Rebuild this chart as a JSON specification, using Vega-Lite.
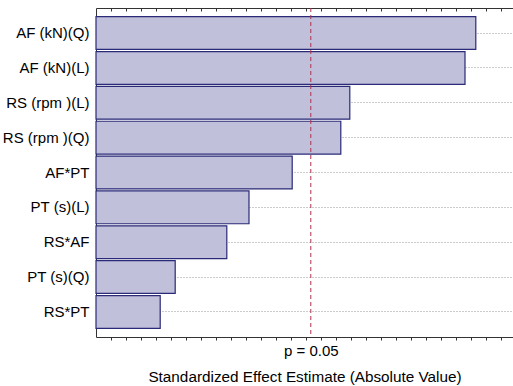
{
  "$schema": "https://vega.github.io/schema/vega-lite/v6.json",
  "autosize": "none",
  "width": 417,
  "height": 329,
  "padding": {"left": 96, "top": 8, "right": 0, "bottom": 49},
  "background": "white",
  "config": {
    "view": {"stroke": null},
    "font": "Liberation Sans",
    "axis": {"domainColor": "#333333", "tickColor": "#333333", "labelFont": "Liberation Sans", "titleFont": "Liberation Sans", "labelColor": "#000000", "titleColor": "#000000"}
  },
  "layer": [
    {
      "data": {"values": [
        {"factor": "AF (kN)(Q)", "effect": 6.33},
        {"factor": "AF (kN)(L)", "effect": 6.15},
        {"factor": "RS (rpm )(L)", "effect": 4.23},
        {"factor": "RS (rpm )(Q)", "effect": 4.08},
        {"factor": "AF*PT", "effect": 3.27},
        {"factor": "PT (s)(L)", "effect": 2.55},
        {"factor": "RS*AF", "effect": 2.18},
        {"factor": "PT (s)(Q)", "effect": 1.32},
        {"factor": "RS*PT", "effect": 1.07}
      ]},
      "mark": {"type": "bar", "fill": "#c0c0da", "stroke": "#2a2a78", "strokeWidth": 1.2},
      "encoding": {
        "y": {"field": "factor", "type": "nominal", "sort": null,
          "scale": {"paddingInner": 0.06, "paddingOuter": 0.25},
          "axis": {"title": null, "ticks": false, "labelFontSize": 15, "labelPadding": 7, "bandPosition": 0.5,
            "grid": true, "gridDash": [1, 2], "gridColor": "#999999", "gridWidth": 1, "domainWidth": 1}},
        "x": {"field": "effect", "type": "quantitative",
          "scale": {"domain": [0, 6.95], "nice": false},
          "axis": {"orient": "bottom", "grid": false,
            "values": [0.25,0.5,0.75,1,1.25,1.5,1.75,2,2.25,2.5,2.75,3,3.25,3.5,3.58,3.75,4,4.25,4.5,4.75,5,5.25,5.5,5.75,6,6.25,6.5,6.75],
            "labelExpr": "abs(datum.value - 3.58) < 0.001 ? 'p = 0.05' : ''",
            "labelFontSize": 15, "labelPadding": 6, "labelOverlap": false,
            "tickSize": {"condition": {"test": "abs(datum.value - 3.58) < 0.001", "value": 0}, "value": 3},
            "title": "Standardized Effect Estimate (Absolute Value)", "titleFontSize": 15.3, "titleFontWeight": "normal", "titlePadding": 8}}
      }
    },
    {
      "data": {"values": [{"label": "p = 0.05", "p": 3.58}]},
      "mark": {"type": "rule", "color": "#b03050", "strokeDash": [4, 3], "strokeWidth": 1},
      "encoding": {
        "x": {"field": "p", "type": "quantitative",
          "axis": {"orient": "top", "grid": false, "labels": false, "title": null,
            "values": [0.25,0.5,0.75,1,1.25,1.5,1.75,2,2.25,2.5,2.75,3,3.25,3.5,3.75,4,4.25,4.5,4.75,5,5.25,5.5,5.75,6,6.25,6.5,6.75],
            "tickSize": -3}}
      }
    }
  ],
  "resolve": {"axis": {"x": "independent"}}
}
